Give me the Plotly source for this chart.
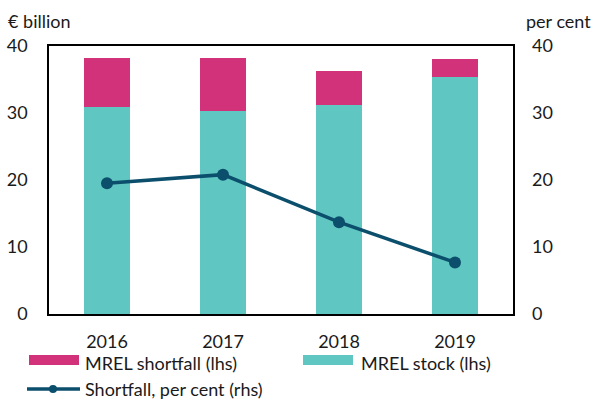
import plotly.graph_objects as go

# Chart data
years = ["2016", "2017", "2018", "2019"]
mrel_stock = [30.9, 30.3, 31.2, 35.4]          # € billion
mrel_shortfall = [7.35, 7.95, 5.0, 2.6]        # € billion
shortfall_pct = [19.5, 20.8, 13.7, 7.7]        # per cent
y_ticks = [0, 10, 20, 30, 40]

PINK = "#D2327A"
TEAL = "#5FC6C2"
NAVY = "#0B4F6C"
FONT = "Lato, 'Open Sans', sans-serif"
TXT = "#1a1a1a"

W, H = 593, 400
L, R, T, B = 49, 513, 46, 314  # plot box in pixels


def px(x):
    return (x - L) / (R - L)


def py(y):
    return (B - y) / (B - T)


fig = go.Figure()
fig.add_trace(go.Bar(x=years, y=mrel_stock, name="MREL stock (lhs)",
                     marker=dict(color=TEAL, line=dict(width=0)), yaxis="y"))
fig.add_trace(go.Bar(x=years, y=mrel_shortfall, name="MREL shortfall (lhs)",
                     marker=dict(color=PINK, line=dict(width=0)), yaxis="y"))
fig.add_trace(go.Scatter(x=years, y=shortfall_pct, name="Shortfall, per cent (rhs)",
                         mode="lines+markers", yaxis="y2",
                         line=dict(color=NAVY, width=3.5),
                         marker=dict(color=NAVY, size=12)))

axis_font = dict(family=FONT, size=18, color=TXT)

fig.update_layout(
    width=W, height=H,
    margin=dict(l=L, r=W - R, t=T, b=H - B),
    paper_bgcolor="white", plot_bgcolor="white",
    barmode="stack", bargap=0.61,
    showlegend=False,
    font=axis_font,
    xaxis=dict(showline=True, linecolor="black", linewidth=1.5, mirror=True,
               ticks="", showgrid=False, tickfont=axis_font,
               ticklabelstandoff=11, automargin=False),
    yaxis=dict(range=[0, 40], tickvals=y_ticks, showline=True, linecolor="black",
               linewidth=1.5, mirror=True, ticks="", showgrid=False, zeroline=False,
               tickfont=axis_font, ticklabelstandoff=16, automargin=False),
    yaxis2=dict(range=[0, 40], tickvals=y_ticks, overlaying="y", side="right",
                showline=False, ticks="", showgrid=False, zeroline=False,
                tickfont=axis_font, ticklabelstandoff=18, automargin=False),
)

annotations = [
    dict(text="€ billion", x=px(6), y=py(21), xanchor="left", yanchor="middle"),
    dict(text="per cent", x=px(524), y=py(21), xanchor="left", yanchor="middle"),
    dict(text="MREL shortfall (lhs)", x=px(83), y=py(363), xanchor="left", yanchor="middle"),
    dict(text="MREL stock (lhs)", x=px(359), y=py(363), xanchor="left", yanchor="middle"),
    dict(text="Shortfall, per cent (rhs)", x=px(83), y=py(389), xanchor="left", yanchor="middle"),
]
for a in annotations:
    a.update(xref="paper", yref="paper", showarrow=False,
             font=dict(family=FONT, size=18, color=TXT))
fig.update_layout(annotations=annotations)

# Legend swatches
shapes = [
    dict(type="rect", x0=px(29), x1=px(79), y0=py(355), y1=py(365),
         fillcolor=PINK, line=dict(width=0)),
    dict(type="rect", x0=px(303), x1=px(353), y0=py(355), y1=py(365),
         fillcolor=TEAL, line=dict(width=0)),
    dict(type="line", x0=px(27), x1=px(80), y0=py(389), y1=py(389),
         line=dict(color=NAVY, width=3.5)),
    dict(type="circle", x0=px(49), x1=px(57), y0=py(385), y1=py(393),
         fillcolor=NAVY, line=dict(width=0)),
]
for s in shapes:
    s.update(xref="paper", yref="paper")
fig.update_layout(shapes=shapes)

fig.write_html("out.html")
